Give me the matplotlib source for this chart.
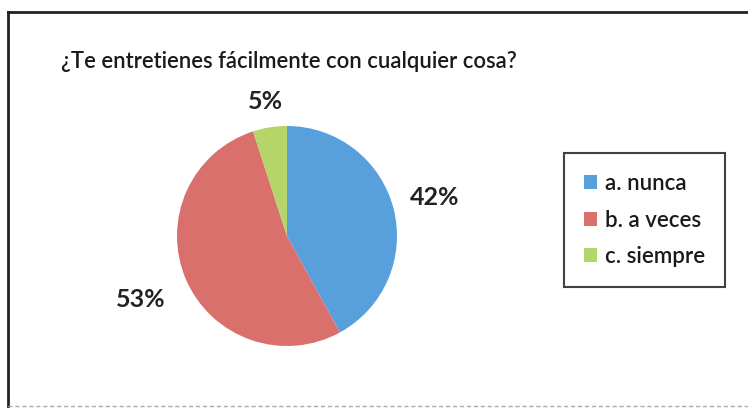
import matplotlib
matplotlib.use("Agg")
import matplotlib.pyplot as plt
from matplotlib.lines import Line2D
from matplotlib.patches import Patch
import numpy as np

title = "¿Te entretienes fácilmente con cualquier cosa?"
categories = ["a. nunca", "b. a veces", "c. siempre"]
values = [42, 53, 5]
colors = ["#57A0DC", "#D9706C", "#B5D56B"]
label_radius = [1.39, 1.45, 1.24]

plt.rcParams['font.family'] = ['Lato', 'DejaVu Sans']

W, H = 748, 408
fig = plt.figure(figsize=(W / 100, H / 100), dpi=100)
fig.patch.set_facecolor("white")

def fx(x):
    return x / W

def fy(y):
    return 1 - y / H

# frame (top, left, bottom)
fig.add_artist(Line2D([fx(8), 1.0], [fy(12), fy(12)], color="#222222", lw=2.0))
fig.add_artist(Line2D([fx(8), fx(8)], [fy(12), fy(406)], color="#222222", lw=2.0))
fig.add_artist(Line2D([fx(8), 1.0], [fy(406), fy(406)], color="#aaaaaa", lw=1.0, ls=(0, (3, 2))))

fig.text(fx(61), fy(62), title, fontsize=15.8, ha="left", va="center", color="#1a1a1a", fontweight="semibold")

cx, cy, r = 287, 236, 110
ax = fig.add_axes([fx(cx - r), fy(cy + r), 2 * r / W, 2 * r / H])
wedges, _ = ax.pie(values, colors=colors, startangle=90, counterclock=False,
                   radius=1.0, wedgeprops=dict(linewidth=0))
ax.set_xlim(-1, 1)
ax.set_ylim(-1, 1)
ax.set_aspect("equal")
ax.axis("off")

for w, v, lr in zip(wedges, values, label_radius):
    ang = np.deg2rad((w.theta1 + w.theta2) / 2)
    ax.text(lr * np.cos(ang), lr * np.sin(ang), f"{v}%", ha="center", va="center",
            fontsize=18, fontweight="bold", color="#222222", clip_on=False)

handles = [Patch(facecolor=c, edgecolor="none") for c in colors]
leg = fig.legend(handles, categories, loc="upper left",
                 bbox_to_anchor=(fx(564), fy(153)), frameon=True, fancybox=False,
                 edgecolor="#111111", fontsize=16, handlelength=0.6, handleheight=0.6,
                 handletextpad=0.35, labelspacing=0.7, borderpad=0.9, borderaxespad=0)
leg.get_frame().set_linewidth(1.5)
for t in leg.get_texts():
    t.set_color("#1a1a1a")
    t.set_fontweight("semibold")

fig.savefig("out.png", dpi=100, facecolor="white")
